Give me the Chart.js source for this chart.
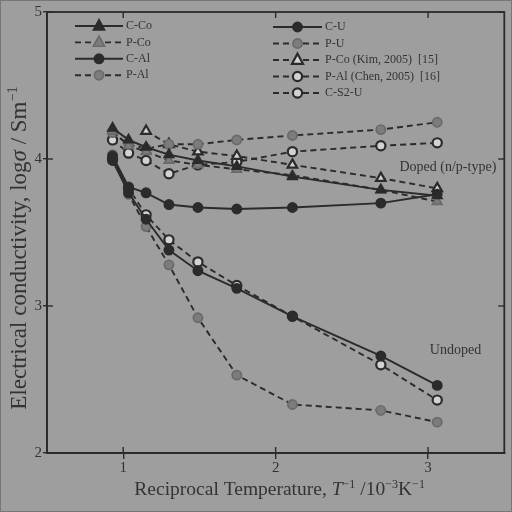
<!DOCTYPE html>
<html>
<head>
<meta charset="utf-8">
<script src="https://cdn.jsdelivr.net/npm/chart.js@4.4.1/dist/chart.umd.min.js"></script>
<style>
html,body{margin:0;padding:0;background:#9e9e9e;}
#wrap{width:512px;height:512px;}
</style>
</head>
<body>
<div id="wrap"><canvas id="c" width="512" height="512"></canvas></div>
<script>
// ---- data ----
const xMain = [0.93, 1.035, 1.15, 1.30, 1.49, 1.745, 2.11, 2.69, 3.06];
const xKim  = [1.15, 1.30, 1.49, 1.745, 2.11, 2.69, 3.06];
const seriesLabels = ['C-Co','P-Co','C-Al','P-Al','C-U','P-U','P-Co (Kim, 2005)  [15]','P-Al (Chen, 2005)  [16]','C-S2-U'];
const cCo  = [4.21, 4.13, 4.08, 4.03, 3.99, 3.95, 3.88, 3.79, 3.75];
const pCo  = [4.19, 4.09, 4.05, 3.99, 3.96, 3.93, 3.89, 3.79, 3.71];
const cAl  = [4.02, 3.81, 3.77, 3.69, 3.67, 3.66, 3.67, 3.70, 3.76];
const pAl  = [4.18, 4.10, 4.07, 4.10, 4.10, 4.13, 4.16, 4.20, 4.25];
const cU   = [3.99, 3.77, 3.59, 3.38, 3.24, 3.12, 2.93, 2.66, 2.46];
const pU   = [4.03, 3.76, 3.54, 3.28, 2.92, 2.53, 2.33, 2.29, 2.21];
const kim  = [4.19, 4.10, 4.05, 4.02, 3.96, 3.87, 3.80];
const chen = [4.13, 4.04, 3.99, 3.90, 3.96, 3.98, 4.05, 4.09, 4.11];
const cS2U = [4.00, 3.80, 3.62, 3.45, 3.30, 3.14, 2.93, 2.60, 2.36];
const xTicks = [1, 2, 3];
const yTicks = [2, 3, 4, 5];
const annotations = [{text:'Doped (n/p-type)', x:3.13, y:3.94}, {text:'Undoped', x:3.18, y:2.70}];

function pts(xs, ys){ return xs.map((x,i)=>({x:x, y:ys[i]})); }

const DARK = '#2b2b2b', GRAY = '#7c7c7c', OPEN = '#d2d2d2';
function styleOf(kind, shape, dashed){
  const s = {pointStyle: shape, showLine:true, borderWidth:1.9, pointRadius: shape==='triangle'?5.5:4.6,
    pointBorderWidth:1.7, borderColor: DARK, borderDash: dashed?[6,4]:[]};
  if(kind==='dark'){ s.pointBackgroundColor = DARK; s.pointBorderColor = DARK; }
  else if(kind==='gray'){ s.pointBackgroundColor = GRAY; s.pointBorderColor = '#6a6a6a'; }
  else { s.pointBackgroundColor = OPEN; s.pointBorderColor = DARK; s.pointBorderWidth = 2.2; }
  return s;
}
const datasets = [
  Object.assign({label:seriesLabels[0], data:pts(xMain,cCo)}, styleOf('dark','triangle',false)),
  Object.assign({label:seriesLabels[1], data:pts(xMain,pCo)}, styleOf('gray','triangle',true)),
  Object.assign({label:seriesLabels[2], data:pts(xMain,cAl)}, styleOf('dark','circle',false)),
  Object.assign({label:seriesLabels[3], data:pts(xMain,pAl)}, styleOf('gray','circle',true)),
  Object.assign({label:seriesLabels[4], data:pts(xMain,cU)}, styleOf('dark','circle',false)),
  Object.assign({label:seriesLabels[5], data:pts(xMain,pU)}, styleOf('gray','circle',true)),
  Object.assign({label:seriesLabels[6], data:pts(xKim,kim)}, styleOf('open','triangle',true)),
  Object.assign({label:seriesLabels[7], data:pts(xMain,chen)}, styleOf('open','circle',true)),
  Object.assign({label:seriesLabels[8], data:pts(xMain,cS2U)}, styleOf('open','circle',true)),
];

function drawMarker(ctx, ds, x, y){
  ctx.save();
  ctx.setLineDash([]);
  ctx.fillStyle = ds.pointBackgroundColor;
  ctx.strokeStyle = ds.pointBorderColor;
  ctx.lineWidth = ds.pointBorderWidth;
  const r = ds.pointRadius;
  ctx.beginPath();
  if(ds.pointStyle==='triangle'){
    ctx.moveTo(x, y - r*1.15);
    ctx.lineTo(x + r, y + r*0.7);
    ctx.lineTo(x - r, y + r*0.7);
    ctx.closePath();
  } else {
    ctx.arc(x, y, r, 0, Math.PI*2);
  }
  ctx.fill(); ctx.stroke();
  ctx.restore();
}

function drawRich(ctx, segs, size){
  let w = 0;
  segs.forEach(s=>{
    const fs = s.sup ? size*0.62 : size;
    ctx.font = (s.it?'italic ':'') + fs + 'px "Liberation Serif", "Times New Roman", serif';
    s.w = ctx.measureText(s.t).width; w += s.w;
  });
  let x = -w/2;
  segs.forEach(s=>{
    const fs = s.sup ? size*0.62 : size;
    ctx.font = (s.it?'italic ':'') + fs + 'px "Liberation Serif", "Times New Roman", serif';
    ctx.fillText(s.t, x, s.sup ? -size*0.38 : 0);
    x += s.w;
  });
}

const framePlugin = {
  id:'frame',
  beforeDraw(chart){
    const ctx = chart.ctx;
    ctx.save();
    ctx.fillStyle = '#9e9e9e';
    ctx.fillRect(0,0,chart.width,chart.height);
    ctx.strokeStyle = '#777'; ctx.lineWidth = 1;
    ctx.strokeRect(0.5,0.5,chart.width-1,chart.height-1);
    ctx.restore();
  },
  afterDraw(chart){
    const ctx = chart.ctx, a = chart.chartArea;
    const xs = chart.scales.x, ys = chart.scales.y;
    ctx.save();
    ctx.strokeStyle = DARK; ctx.lineWidth = 1.8; ctx.setLineDash([]);
    ctx.strokeRect(a.left, a.top, a.right-a.left, a.bottom-a.top);
    ctx.lineWidth = 1.4;
    xTicks.forEach(v=>{
      const px = xs.getPixelForValue(v);
      ctx.beginPath(); ctx.moveTo(px, a.bottom); ctx.lineTo(px, a.bottom-6); ctx.stroke();
      ctx.beginPath(); ctx.moveTo(px, a.top); ctx.lineTo(px, a.top+6); ctx.stroke();
    });
    yTicks.forEach(v=>{
      const py = ys.getPixelForValue(v);
      ctx.beginPath(); ctx.moveTo(a.left, py); ctx.lineTo(a.left+6, py); ctx.stroke();
      ctx.beginPath(); ctx.moveTo(a.right, py); ctx.lineTo(a.right-6, py); ctx.stroke();
    });
    ctx.fillStyle = '#333';
    ctx.font = '14px "Liberation Serif", "Times New Roman", serif';
    ctx.textAlign = 'center'; ctx.textBaseline = 'middle';
    annotations.forEach(an=>{
      ctx.fillText(an.text, xs.getPixelForValue(an.x), ys.getPixelForValue(an.y));
    });
    ctx.textBaseline = 'alphabetic';
    ctx.textAlign = 'left';
    ctx.save();
    ctx.translate((a.left+a.right)/2 + 4, 495);
    drawRich(ctx, [{t:'Reciprocal Temperature, '},{t:'T',it:true},{t:'\u22121',sup:true},{t:' /10'},{t:'\u22123',sup:true},{t:'K'},{t:'\u22121',sup:true}], 19.5);
    ctx.restore();
    ctx.save();
    ctx.translate(26, 248);
    ctx.rotate(-Math.PI/2);
    drawRich(ctx, [{t:'Electrical conductivity, log'},{t:'\u03c3',it:true},{t:' / Sm'},{t:'\u22121',sup:true}], 23);
    ctx.restore();
    const cols = [{x0:75, x1:123, tx:126, y0:26, dy:16.4, from:0, to:4},
                  {x0:273, x1:322, tx:325, y0:27, dy:16.5, from:4, to:9}];
    ctx.font = '12px "Liberation Serif", "Times New Roman", serif';
    ctx.textBaseline = 'middle';
    cols.forEach(c=>{
      for(let i=c.from;i<c.to;i++){
        const ds = chart.data.datasets[i];
        const y = c.y0 + (i-c.from)*c.dy;
        ctx.strokeStyle = ds.borderColor; ctx.lineWidth = ds.borderWidth;
        ctx.setLineDash(ds.borderDash);
        ctx.beginPath(); ctx.moveTo(c.x0, y); ctx.lineTo(c.x1, y); ctx.stroke();
        drawMarker(ctx, ds, (c.x0+c.x1)/2, y);
        ctx.fillStyle = '#333';
        ctx.fillText(ds.label, c.tx, y);
      }
    });
    ctx.restore();
  }
};

new Chart(document.getElementById('c'), {
  type:'scatter',
  data:{datasets: datasets},
  options:{
    responsive:false, animation:false, devicePixelRatio:1,
    layout:{padding:{top:12, right:5, left:0, bottom:0}},
    plugins:{legend:{display:false}, tooltip:{enabled:false}},
    elements:{line:{tension:0}},
    scales:{
      x:{type:'linear', min:0.5, max:3.5,
        afterBuildTicks(s){ s.ticks = xTicks.map(v=>({value:v})); },
        afterFit(s){ s.height = 59; },
        grid:{drawOnChartArea:false, drawTicks:true, tickLength:6, color:DARK, lineWidth:1.4},
        border:{display:true, color:DARK, width:1.8},
        ticks:{color:'#333', padding:0, font:{family:'"Liberation Serif", serif', size:15}}
      },
      y:{type:'linear', min:2, max:5,
        afterBuildTicks(s){ s.ticks = yTicks.map(v=>({value:v})); },
        afterFit(s){ s.width = 47; },
        grid:{drawOnChartArea:false, drawTicks:true, tickLength:4, color:DARK, lineWidth:1.4},
        border:{display:true, color:DARK, width:1.8},
        ticks:{color:'#333', padding:1, font:{family:'"Liberation Serif", serif', size:15}}
      }
    }
  },
  plugins:[framePlugin]
});
</script>
</body>
</html>
